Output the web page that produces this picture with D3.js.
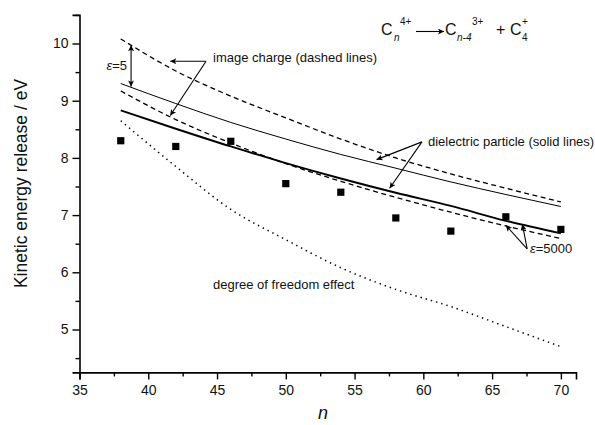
<!DOCTYPE html>
<html>
<head>
<meta charset="utf-8">
<script src="https://cdn.jsdelivr.net/npm/d3@7"></script>
<style>
  body { margin: 0; background: #fff; }
  svg { font-family: "Liberation Sans", Arial, sans-serif; }
</style>
</head>
<body>
<div id="chart"></div>
<script>
// cluster sizes n
var nValues = [38, 42, 46, 50, 54, 58, 62, 66, 70];
// measured kinetic energy release (squares)
var measured = [8.30, 8.20, 8.29, 7.55, 7.40, 6.95, 6.72, 6.97, 6.75];
// image charge model, eps=5 and eps=5000 (dashed)
var imageEps5 = [10.08, 9.52, 9.08, 8.70, 8.33, 8.00, 7.72, 7.47, 7.23];
var imageEps5000 = [9.17, 8.67, 8.26, 7.90, 7.59, 7.31, 7.05, 6.81, 6.59];
// dielectric particle model, eps=5 and eps=5000 (solid)
var dielEps5 = [9.30, 8.95, 8.62, 8.33, 8.06, 7.82, 7.58, 7.36, 7.15];
var dielEps5000 = [8.83, 8.51, 8.20, 7.91, 7.64, 7.39, 7.16, 6.90, 6.68];
// degree of freedom effect (dotted)
var dofEffect = [8.65, 7.85, 7.10, 6.57, 6.08, 5.70, 5.40, 5.05, 4.70];

var xTicks = [35, 40, 45, 50, 55, 60, 65, 70];
var yTicks = [5, 6, 7, 8, 9, 10];

var width = 595, height = 425;

var svg = d3.select("#chart").append("svg")
  .attr("width", width)
  .attr("height", height);

var x = d3.scaleLinear().domain([35, 71.1]).range([79.5, 576]);
var y = d3.scaleLinear().domain([4.25, 10.5]).range([372.4, 14.9]);

// arrow heads
var defs = svg.append("defs");
defs.append("marker")
  .attr("id", "head")
  .attr("viewBox", "0 0 10 10")
  .attr("refX", 10).attr("refY", 5)
  .attr("markerUnits", "userSpaceOnUse")
  .attr("markerWidth", 9).attr("markerHeight", 6)
  .attr("orient", "auto-start-reverse")
  .append("path")
  .attr("d", "M0,0 L10,5 L0,10 L2.5,5 Z")
  .attr("fill", "#000");

// axes
var xAxis = d3.axisBottom(x).tickValues(xTicks).tickSize(7).tickPadding(6).tickFormat(d3.format("d"));
var xMinor = d3.axisBottom(x).tickValues(d3.range(37.5, 71, 5)).tickSize(4).tickFormat("");
var yAxis = d3.axisLeft(y).tickValues(yTicks).tickSize(7).tickPadding(4).tickFormat(d3.format("d"));
var yMinor = d3.axisLeft(y).tickValues(d3.range(4.5, 10.6, 1)).tickSize(4).tickFormat("");

function styleAxis(g) {
  g.select(".domain").attr("stroke-width", 1.6);
  g.selectAll(".tick line").attr("stroke-width", 1.4);
  g.selectAll("text").attr("font-size", 14).attr("fill", "#111")
    .attr("font-family", "\"Liberation Sans\", Arial, sans-serif");
}

svg.append("g").attr("transform", "translate(0," + y.range()[0] + ")").call(xAxis).call(styleAxis);
svg.append("g").attr("transform", "translate(0," + y.range()[0] + ")").call(xMinor).call(styleAxis)
  .select(".domain").remove();
svg.append("g").attr("transform", "translate(" + x.range()[0] + ",0)").call(yAxis).call(styleAxis);
svg.append("g").attr("transform", "translate(" + x.range()[0] + ",0)").call(yMinor).call(styleAxis)
  .select(".domain").remove();

// axis titles
svg.append("text")
  .attr("transform", "translate(26.5," + 183.5 + ") rotate(-90)")
  .attr("text-anchor", "middle")
  .attr("font-size", 17.5)
  .attr("fill", "#111")
  .text("Kinetic energy release / eV");

svg.append("text")
  .attr("x", 323).attr("y", 419)
  .attr("text-anchor", "middle")
  .attr("font-size", 18)
  .attr("font-style", "italic")
  .attr("fill", "#111")
  .text("n");

// curves
var line = d3.line()
  .x(function(d) { return x(d[0]); })
  .y(function(d) { return y(d[1]); })
  .curve(d3.curveMonotoneX);

function series(vals) {
  return nValues.map(function(n, i) { return [n, vals[i]]; });
}

var curves = [
  {vals: imageEps5, w: 1.3, dash: "5,3.5"},
  {vals: imageEps5000, w: 1.3, dash: "5,3.5"},
  {vals: dielEps5, w: 1.0, dash: null},
  {vals: dielEps5000, w: 1.9, dash: null},
  {vals: dofEffect, w: 1.5, dash: "1.4,4"}
];

curves.forEach(function(c) {
  svg.append("path")
    .datum(series(c.vals))
    .attr("d", line)
    .attr("fill", "none")
    .attr("stroke", "#000")
    .attr("stroke-width", c.w)
    .attr("stroke-dasharray", c.dash);
});

// measured points
svg.selectAll(".pt")
  .data(series(measured))
  .enter().append("rect")
  .attr("class", "pt")
  .attr("x", function(d) { return x(d[0]) - 3.6; })
  .attr("y", function(d) { return y(d[1]) - 3.6; })
  .attr("width", 7.2).attr("height", 7.2)
  .attr("fill", "#000");

// annotations
function arrow(x1, y1, x2, y2, both) {
  var p = svg.append("line")
    .attr("x1", x(x1)).attr("y1", y(y1))
    .attr("x2", x(x2)).attr("y2", y(y2))
    .attr("stroke", "#000").attr("stroke-width", 1.1)
    .attr("marker-end", "url(#head)");
  if (both) p.attr("marker-start", "url(#head)");
}

function label(px, py, parts, anchor) {
  var t = svg.append("text")
    .attr("x", px).attr("y", py)
    .attr("font-size", 13)
    .attr("fill", "#111")
    .attr("text-anchor", anchor || "start");
  parts.forEach(function(p) {
    t.append("tspan").attr("font-style", p.it ? "italic" : null).text(p.s);
  });
}

// eps = 5 double arrow
arrow(38.75, 9.97, 38.75, 9.25, true);
label(127, 70, [{s: "\u03b5", it: true}, {s: "=5"}], "end");

// image charge
arrow(44.2, 9.69, 41.6, 9.69);
arrow(44.2, 9.69, 41.6, 8.74);
label(213, 62, [{s: "image charge (dashed lines)"}]);

// dielectric particle
arrow(59.9, 8.28, 56.6, 7.97);
arrow(59.9, 8.28, 57.55, 7.47);
label(428, 146, [{s: "dielectric particle (solid lines)"}]);

// eps = 5000
arrow(67.55, 6.41, 66.0, 6.82);
arrow(67.55, 6.41, 67.2, 6.84);
label(530, 253, [{s: "\u03b5", it: true}, {s: "=5000"}]);

label(213, 289, [{s: "degree of freedom effect"}]);

// reaction formula
var f = svg.append("g").attr("fill", "#111");
function ftext(px, py, s, size, it) {
  f.append("text").attr("x", px).attr("y", py)
    .attr("font-size", size).attr("font-style", it ? "italic" : null).text(s);
}
ftext(381, 35, "C", 16);
ftext(394, 41, "n", 10, true);
ftext(400, 25, "4+", 10);
svg.append("line")
  .attr("x1", 416).attr("y1", 31.5).attr("x2", 444).attr("y2", 31.5)
  .attr("stroke", "#000").attr("stroke-width", 1.1)
  .attr("marker-end", "url(#head)");
ftext(445, 35, "C", 16);
ftext(457, 41, "n-4", 10, true);
ftext(472, 25, "3+", 10);
ftext(496, 35, "+", 16);
ftext(510, 35, "C", 16);
ftext(522, 41, "4", 10);
ftext(522, 25, "+", 10);
</script>
</body>
</html>
